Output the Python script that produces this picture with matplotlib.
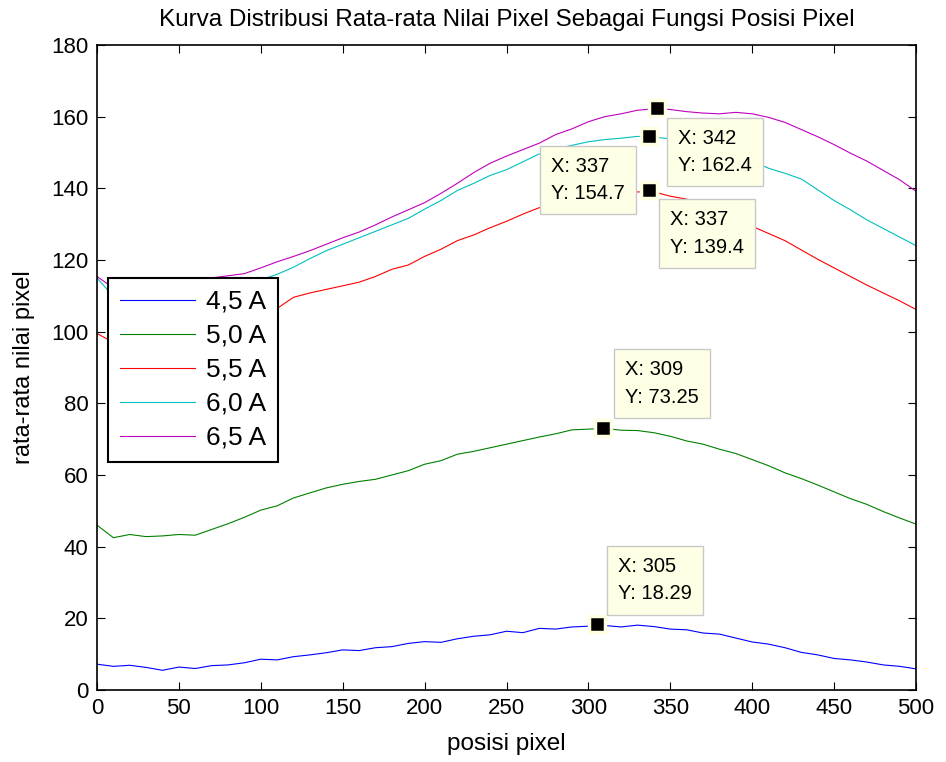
import numpy as np
import matplotlib
matplotlib.use('Agg')
import matplotlib.pyplot as plt

plt.rcParams['font.family'] = ['Liberation Sans', 'DejaVu Sans']

# posisi pixel (sampled every 10)
posisi = np.arange(0, 501, 10)

arus_4_5 = [7.2, 6.6, 6.9, 6.3, 5.5, 6.4, 6.0, 6.8, 7.0, 7.6,
            8.6, 8.4, 9.3, 9.8, 10.4, 11.2, 11.0, 11.8, 12.1, 13.0,
            13.5, 13.3, 14.3, 15.0, 15.4, 16.4, 16.0, 17.2, 17.0, 17.6,
            17.8, 18.0, 17.6, 18.1, 17.7, 17.0, 16.8, 15.9, 15.6, 14.5,
            13.4, 12.8, 11.8, 10.5, 9.8, 8.8, 8.4, 7.8, 7.0, 6.6, 5.9]
arus_5_0 = [46.0, 42.5, 43.4, 42.8, 43.0, 43.4, 43.2, 44.8, 46.4, 48.2,
            50.2, 51.4, 53.6, 55.0, 56.4, 57.4, 58.2, 58.8, 60.0, 61.2,
            63.0, 64.0, 65.8, 66.6, 67.6, 68.6, 69.6, 70.6, 71.5, 72.6,
            72.8, 73.0, 72.5, 72.4, 71.8, 70.8, 69.5, 68.6, 67.2, 66.0,
            64.3, 62.6, 60.6, 59.0, 57.2, 55.3, 53.4, 51.8, 49.8, 48.0, 46.3]
arus_5_5 = [99.5, 97.0, 98.5, 99.0, 99.8, 100.5, 101.5, 102.2, 103.5, 104.5,
            105.5, 106.5, 109.6, 110.8, 111.8, 112.8, 113.8, 115.4, 117.4, 118.6,
            121.0, 123.0, 125.4, 127.0, 129.0, 130.8, 132.8, 134.6, 135.4, 136.6,
            137.4, 137.8, 138.4, 139.0, 139.0, 137.8, 137.0, 135.0, 133.2, 131.4,
            129.4, 127.4, 125.4, 122.8, 120.2, 117.8, 115.4, 113.0, 110.8, 108.6, 106.2]
arus_6_0 = [115.0, 109.8, 110.5, 111.0, 111.5, 112.0, 112.5, 113.0, 113.5, 114.0,
            114.5, 116.0, 118.0, 120.4, 122.6, 124.4, 126.2, 128.0, 129.8, 131.6,
            134.2, 136.6, 139.4, 141.4, 143.6, 145.2, 147.4, 149.6, 151.0, 152.0,
            153.0, 153.6, 154.0, 154.5, 154.3, 153.8, 153.0, 152.0, 150.6, 149.0,
            147.6, 145.6, 144.2, 142.6, 139.6, 136.6, 134.0, 131.2, 128.8, 126.4, 124.0]
arus_6_5 = [115.4, 112.2, 112.8, 113.2, 113.6, 114.0, 114.5, 115.0, 115.6, 116.2,
            117.8, 119.5, 121.0, 122.6, 124.4, 126.2, 127.8, 129.8, 132.0, 134.0,
            136.0, 138.6, 141.4, 144.4, 147.0, 149.0, 150.8, 152.6, 155.0, 156.6,
            158.6, 160.0, 160.8, 161.8, 162.2, 162.0, 161.4, 161.0, 160.8, 161.2,
            160.8, 159.8, 158.4, 156.4, 154.4, 152.2, 149.8, 147.6, 145.0, 142.4, 139.2]

labels = ['4,5 A', '5,0 A', '5,5 A', '6,0 A', '6,5 A']
colors = ['#0000FF', '#008000', '#FF0000', '#00BFBF', '#BF00BF']

# data tips (x, y) and box offsets in pixels
tip_x = [342, 337, 337, 309, 305]
tip_y = [162.4, 154.7, 139.4, 73.25, 18.29]
tip_txt = ['162.4', '154.7', '139.4', '73.25', '18.29']
tip_off = [(21, -21), (-24, -21), (21, -20), (22, 21), (21, 21)]
tip_ha = ['left', 'right', 'left', 'left', 'left']
tip_va = ['top', 'top', 'top', 'bottom', 'bottom']

fig = plt.figure(figsize=(9.46, 7.62), dpi=100)
ax = fig.add_axes([97/946, 1 - 690/762, 819/946, 645/762])

for ys, lab, c in zip([arus_4_5, arus_5_0, arus_5_5, arus_6_0, arus_6_5], labels, colors):
    ax.plot(posisi, ys, color=c, lw=0.8, label=lab)

for x, y, t, off, ha, va in zip(tip_x, tip_y, tip_txt, tip_off, tip_ha, tip_va):
    ax.plot(x, y, 's', ms=12, mfc='black', mec='#FFFFE1', mew=2.5, zorder=5)
    ax.annotate('X: %d\nY: %s' % (x, t), (x, y), xytext=off, textcoords='offset pixels',
                ha=ha, va=va, multialignment='left', fontsize=14.5, linespacing=1.55,
                zorder=6,
                bbox=dict(boxstyle='square,pad=0.55', fc='#FFFFE6', ec='#C8C8C8', lw=1))

ax.set_xlim(0, 500)
ax.set_ylim(0, 180)
ax.set_xticks(np.arange(0, 501, 50))
ax.set_yticks(np.arange(0, 181, 20))
ax.tick_params(direction='in', length=6, top=True, right=True, labelsize=16, pad=6)
for s in ax.spines.values():
    s.set_linewidth(1.2)

ax.set_title('Kurva Distribusi Rata-rata Nilai Pixel Sebagai Fungsi Posisi Pixel', fontsize=17.5, pad=14)
ax.set_xlabel('posisi pixel', fontsize=17.5, labelpad=10)
ax.set_ylabel('rata-rata nilai pixel', fontsize=17, labelpad=12)

leg = ax.legend(loc='upper left', bbox_to_anchor=((108 - 97) / 819, (690 - 278) / 645),
                borderaxespad=0, fontsize=19, handlelength=2.85, labelspacing=0.38,
                handletextpad=0.4, borderpad=0.45,
                fancybox=False, framealpha=1, edgecolor='black')
leg.get_frame().set_linewidth(1.5)
leg.set_zorder(7)

fig.savefig('out.png', dpi=100)
